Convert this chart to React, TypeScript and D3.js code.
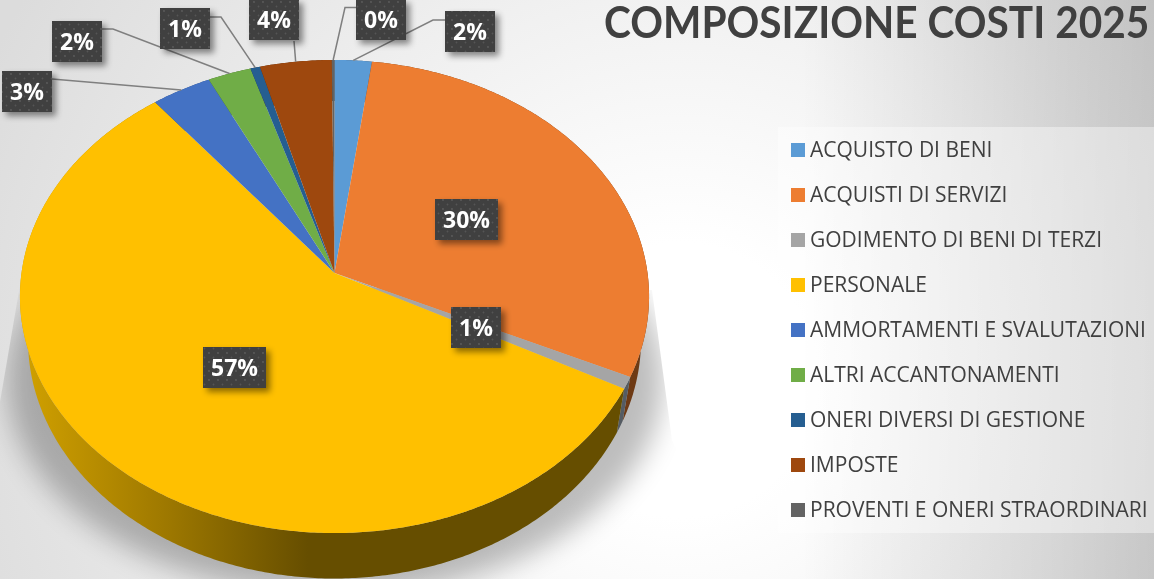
import React from "react";
import * as d3 from "d3";

const categories = ["ACQUISTO DI BENI", "ACQUISTI DI SERVIZI", "GODIMENTO DI BENI DI TERZI", "PERSONALE", "AMMORTAMENTI E SVALUTAZIONI", "ALTRI ACCANTONAMENTI", "ONERI DIVERSI DI GESTIONE", "IMPOSTE", "PROVENTI E ONERI STRAORDINARI"];
const values = [2.1, 29.9, 0.8, 56.6, 3.4, 2.45, 0.55, 4.05, 0.15];
const colors = ["#5B9BD5", "#ED7D31", "#A5A5A5", "#FFC000", "#4472C4", "#70AD47", "#255E91", "#9E480E", "#636363"];
const wallColors = ["#2f4f6e", "#6e3a14", "#555c63", "url(#wallYellow)", "#2a4a80", "#3f6128", "#153550", "#5a2908", "#3a3a3a"];
const title = "COMPOSIZIONE COSTI 2025";

// label box top-left corner, per slice, in page pixels
const labelX = [445, 435, 451, 203, 2, 52, 160, 249, 356];
const labelY = [11, 199, 307, 347, 71, 21, 8, -1, -1];
const labelW = [50, 63, 50, 63, 50, 50, 50, 50, 50];
// leader: elbow points between the box and the slice (null = no leader)
const leaderStart: ([number, number][] | null)[] = [
  [[445, 20], [433, 20]], null, null, null,
  [[52, 79]],
  [[102, 29], [113, 29]],
  [[210, 17], [221, 17]],
  [[294, 41]],
  [[356, 7.5], [345, 7.5]],
];

const W = 1154, H = 579;
const K = 0.0994;
const top3d = { ax: 334.5, ay: 273, r: 313, s: 234.2 };
const bot3d = { ax: 334.5, ay: 316, r: 305, s: 236.4 };
type Rim = typeof top3d;
const project = (rim: Rim, a: number): [number, number] => {
  const w = 1 + K * Math.cos(a);
  return [rim.ax + (rim.r * Math.sin(a)) / w, rim.ay - (rim.s * Math.cos(a)) / w];
};
const arcPts = (rim: Rim, a0: number, a1: number) => {
  const n = Math.max(2, Math.ceil((a1 - a0) / 0.01));
  return d3.range(n + 1).map((i) => project(rim, a0 + ((a1 - a0) * i) / n));
};
const line = d3.line();

const pieGen = d3.pie<number>().sort(null).startAngle(0).endAngle(2 * Math.PI);
const slices = pieGen(values);
const total = d3.sum(values);
const pct = (v: number) => `${Math.round((v / total) * 100)}%`;
const colorOf = d3.scaleOrdinal<string, string>().domain(categories).range(colors);
const legendY = d3.scalePoint<string>().domain(categories).range([149, 509]);

const font = "'Open Sans', sans-serif";
const titleFont = "Lato, 'Open Sans', sans-serif";

export default function App() {
  return (
    <svg width={W} height={H} viewBox={`0 0 ${W} ${H}`} style={{ position: "fixed", left: 0, top: 0, display: "block" }}>
      <defs>
        <radialGradient id="bg" gradientUnits="userSpaceOnUse" cx={680} cy={380} r={760}>
          <stop offset="0" stopColor="#ffffff" />
          <stop offset="0.18" stopColor="#ffffff" />
          <stop offset="1" stopColor="#dcdcdc" />
        </radialGradient>
        <linearGradient id="bgRight" gradientUnits="userSpaceOnUse" x1={800} y1={0} x2={1154} y2={0}>
          <stop offset="0" stopColor="#000" stopOpacity={0} />
          <stop offset="1" stopColor="#000" stopOpacity={0.15} />
        </linearGradient>
        <linearGradient id="wallYellow" gradientUnits="userSpaceOnUse" x1={25} y1={0} x2={640} y2={0}>
          <stop offset="0" stopColor="#d0a000" />
          <stop offset="0.22" stopColor="#a07a00" />
          <stop offset="0.46" stopColor="#664e00" />
          <stop offset="1" stopColor="#664e00" />
        </linearGradient>
        <filter id="blurShadow" x="-20%" y="-20%" width="140%" height="140%">
          <feGaussianBlur stdDeviation="14" />
        </filter>
        <filter id="boxShadow" x="-30%" y="-30%" width="170%" height="170%">
          <feDropShadow dx="4" dy="4" stdDeviation="3" floodColor="#000" floodOpacity="0.45" />
        </filter>
        <pattern id="dots" patternUnits="userSpaceOnUse" width="9" height="9">
          <rect width="9" height="9" fill="#404040" />
          <circle cx="2" cy="2" r="0.9" fill="#5c5c5c" />
          <circle cx="6.5" cy="6.5" r="0.9" fill="#555555" />
        </pattern>
        <clipPath id="shadowClip">
          <polygon points="20,285 -10,460 -10,600 760,600 672,440 652,290" />
        </clipPath>
      </defs>

      <rect width={W} height={H} fill="url(#bg)" />
      <rect width={W} height={H} fill="url(#bgRight)" />

      <g clipPath="url(#shadowClip)">
        <ellipse cx={335} cy={380} rx={328} ry={215} fill="#000" opacity={0.26} filter="url(#blurShadow)" />
      </g>

      {slices.map((s, i) => {
        const pts = [...arcPts(top3d, s.startAngle, s.endAngle), ...arcPts(bot3d, s.startAngle, s.endAngle).reverse()];
        return <path key={i} d={line(pts) + "Z"} fill={wallColors[i]} />;
      })}
      {slices.map((s, i) => {
        const pts: [number, number][] = [[top3d.ax, top3d.ay], ...arcPts(top3d, s.startAngle, s.endAngle)];
        return <path key={i} d={line(pts) + "Z"} fill={colorOf(categories[i])} />;
      })}

      {slices.map((s, i) => {
        const start = leaderStart[i];
        if (!start) return null;
        const pts: [number, number][] = [...start, project(top3d, (s.startAngle + s.endAngle) / 2)];
        return <path key={i} d={line(pts) ?? ""} fill="none" stroke="#7f7f7f" strokeWidth={1.5} />;
      })}

      {slices.map((s, i) => (
        <g key={i}>
          <rect x={labelX[i]} y={labelY[i]} width={labelW[i]} height={41} fill="url(#dots)" filter="url(#boxShadow)" />
          <text x={labelX[i] + labelW[i] / 2} y={labelY[i] + 29} textAnchor="middle" fontFamily={font} fontWeight={700} fontSize={23} fill="#fff">
            {pct(s.value)}
          </text>
        </g>
      ))}

      <text transform="translate(604,38) scale(0.923,1)" fontFamily={titleFont} fontWeight={700} fontSize={44} fill="#404040">
        {title}
      </text>

      <rect x={778} y={127} width={376} height={406} fill="#fff" opacity={0.4} />
      {categories.map((c) => {
        const y = legendY(c) as number;
        return (
          <g key={c}>
            <rect x={791} y={y - 6} width={14} height={14} fill={colorOf(c)} />
            <text x={810} y={y + 8} fontFamily={font} fontSize={21} fill="#404040">
              {c}
            </text>
          </g>
        );
      })}
    </svg>
  );
}
